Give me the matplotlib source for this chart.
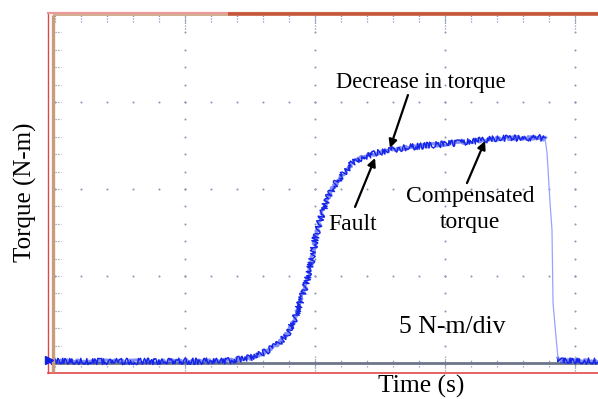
import numpy as np
import matplotlib.pyplot as plt

plt.rcParams['font.family'] = ['Liberation Serif', 'DejaVu Serif']

# Scope capture: time in divisions, torque in N-m (5 N-m per division)
rise_t = [-0.04, 0.35, 0.73, 1.12, 1.35, 1.50, 1.60, 1.71, 1.79, 1.85, 1.90, 1.94,
          1.98, 2.00, 2.04, 2.09, 2.14, 2.22, 2.29, 2.37, 2.48, 2.58, 2.73, 2.91,
          3.17, 3.29, 3.42, 3.58, 3.73, 3.77]
rise_nm = [0.09, 0.09, 0.09, 0.10, 0.13, 0.29, 0.57, 1.03, 1.72, 2.64, 3.79, 4.77,
           6.09, 7.07, 8.22, 9.37, 10.11, 10.92, 11.49, 11.84, 12.07, 12.24, 12.41, 12.53,
           12.70, 12.82, 12.90, 12.93, 12.96, 12.87]

# fast drop when the load is removed
fall_t = [3.77, 3.785, 3.808, 3.823, 3.831, 3.854, 3.869]
fall_nm = [12.87, 12.07, 9.20, 7.64, 3.45, 1.49, 0.29]

tail_t = [3.869, 3.90, 4.05, 4.18]
tail_nm = [0.29, 0.11, 0.11, 0.11]

trace_color = '#1f30f0'
dot_color = '#8e97b6'

fig = plt.figure(figsize=(5.98, 3.99), dpi=100)
ax = fig.add_axes([48 / 598, 26 / 399, 550 / 598, 360 / 399])
x_lo, x_hi = -7 / 130, 543 / 130
y_lo, y_hi = -10 * 5 / 87, 350 * 5 / 87
ax.set_xlim(x_lo, x_hi)
ax.set_ylim(y_lo, y_hi)
ax.set_xticks([])
ax.set_yticks([])

ax.spines['right'].set_visible(False)
ax.spines['left'].set_color('#e04848')
ax.spines['left'].set_linewidth(1.0)
ax.spines['bottom'].set_color('#e04848')
ax.spines['bottom'].set_linewidth(1.2)
ax.spines['top'].set_color('#ea9a9a')
ax.spines['top'].set_linewidth(1.6)

# frame lines of the scope screen
ax.plot([1.331, x_hi], [y_hi - 0.03, y_hi - 0.03], color='#c4563a', lw=2.6,
        clip_on=False, solid_capstyle='butt', zorder=5)
ax.plot([-0.012, 1.331], [y_hi - 0.12, y_hi - 0.12], color='#cfa887', lw=1.3,
        solid_capstyle='butt', zorder=4)
ax.plot([-0.012, -0.012], [y_lo + 0.05, y_hi - 0.1], color='#c99c7a', lw=2.4,
        solid_capstyle='butt', zorder=4)

# graticule dots
minor_x = np.arange(0, 4.21, 0.2)
minor_y = np.arange(1, 20, 1)
for yy in [5, 10, 15]:
    ax.scatter(minor_x, np.full(len(minor_x), yy), s=2.2, color=dot_color, lw=0, zorder=1)
for xx in [1, 2, 3, 4]:
    ax.scatter(np.full(len(minor_y), xx), minor_y, s=2.2, color=dot_color, lw=0, zorder=1)

# small tick marks along the edges and the baseline
ax.vlines(minor_x, 19.62, 20.0, color=dot_color, lw=0.9, linestyles=(0, (1, 1.2)), zorder=1)
ax.vlines(minor_x, -0.22, 0.22, color=dot_color, lw=0.9, linestyles=(0, (1, 1.2)), zorder=1)
ax.vlines([1, 2, 3, 4], -0.45, 0.45, color=dot_color, lw=0.9, linestyles=(0, (1, 1.2)), zorder=1)
ax.vlines([1, 2, 3, 4], 19.2, 20.0, color=dot_color, lw=0.9, linestyles=(0, (1, 1.2)), zorder=1)
ax.hlines(minor_y, 0.0, 0.045, color=dot_color, lw=0.9, linestyles=(0, (1, 1.2)), zorder=1)

# baseline
ax.plot([-0.012, x_hi], [0, 0], color='#6d7589', lw=2.0, zorder=2)

# torque trace: a soft wide pass plus a jittery thin pass for the noise
for t, nm in [(rise_t, rise_nm), (tail_t, tail_nm)]:
    wide, = ax.plot(t, nm, color=trace_color, lw=2.2, alpha=0.55, zorder=3)
    wide.set_sketch_params(scale=1.5, length=4, randomness=6)
    fine, = ax.plot(t, nm, color='#1424e8', lw=1.0, zorder=3)
    fine.set_sketch_params(scale=3.2, length=1.6, randomness=8)
ax.plot(fall_t, fall_nm, color='#97a2ff', lw=0.9, zorder=3)

# ground reference marker
ax.plot(-0.047, 0.17, marker='>', color='#1020e0', ms=6, clip_on=False, zorder=6)

arrow = dict(arrowstyle='-|>', color='black', lw=1.6, mutation_scale=12,
             shrinkA=0, shrinkB=0)
ax.annotate('', xy=(2.577, 12.36), xytext=(2.715, 15.40), arrowprops=arrow, zorder=7)
ax.annotate('', xy=(2.462, 11.78), xytext=(2.308, 8.97), arrowprops=arrow, zorder=7)
ax.annotate('', xy=(3.308, 12.76), xytext=(3.169, 10.34), arrowprops=arrow, zorder=7)

ax.text(2.812, 15.80, 'Decrease in torque', fontsize=16.3, ha='center', va='baseline')
ax.text(2.288, 7.64, 'Fault', fontsize=17, ha='center', va='baseline')
ax.text(3.196, 9.25, 'Compensated', fontsize=17, ha='center', va='baseline')
ax.text(3.196, 7.76, 'torque', fontsize=17, ha='center', va='baseline')
ax.text(3.058, 1.72, '5 N-m/div', fontsize=18.5, ha='center', va='baseline')

fig.text(421 / 598, 6 / 399, 'Time (s)', fontsize=18.4, ha='center', va='baseline')
fig.text(25 / 598, 1 - 192 / 399, 'Torque (N-m)', fontsize=18, ha='center',
         va='center', rotation=90)

fig.savefig('out.png', dpi=100)
